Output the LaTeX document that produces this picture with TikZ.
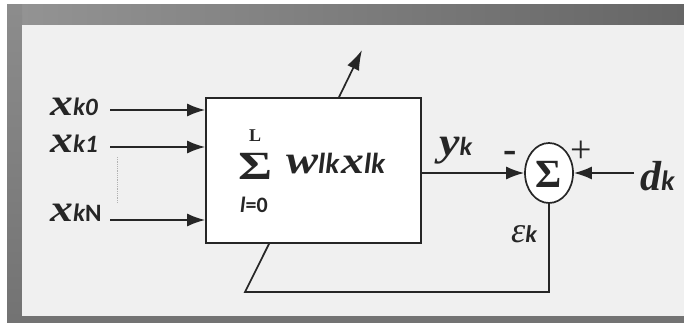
\documentclass[tikz,border=0pt]{standalone}
\usepackage{fontspec}
\setmainfont{Liberation Serif}
\newfontfamily\subf{Carlito}
\usetikzlibrary{arrows.meta,shapes.geometric}
\definecolor{panel}{HTML}{F0F0F0}
\definecolor{ink}{HTML}{262626}
\newcommand\bx[2]{\scalebox{#2}[1]{\fontsize{#1}{#1}\selectfont\bfseries\itshape x}}
\newcommand\sk[2]{{\fontsize{#1}{#1}\subf\bfseries\itshape #2}}
\begin{document}
\begin{tikzpicture}[x=1pt,y=-1pt,
  wire/.style={draw=ink,line width=1.7pt},
  arr/.style={wire,-{Latex[length=18pt,width=13pt]}},
  lbl/.style={inner sep=0pt,anchor=base west,text=ink}]
\useasboundingbox (0,0) rectangle (684,323);
% frame
\fill[white] (0,0) rectangle (684,323);
\shade[left color=black!42,right color=black!60] (7,5) rectangle (684,25);
\shade[top color=black!45,bottom color=black!55] (7,5) rectangle (22,323);
\fill[black!55] (7,316) rectangle (684,323);
\fill[panel] (22,25) rectangle (684,316);
% main box
\node[draw=ink,line width=1.7pt,fill=white,minimum width=215pt,minimum height=145pt,inner sep=0pt] (box) at (313.5,170.5) {};
\node[lbl] (L) at (249,142) {\fontsize{18}{18}\selectfont\bfseries L};
\node[lbl] (sig) at (238,179) {\scalebox{1.3}[1]{\fontsize{40}{40}\selectfont\bfseries Σ}};
\node[lbl] (l0) at (240,212) {\sk{22}{l}\sk{22}{\upshape =0}};
\node[lbl] (wx) at (286,173) {\scalebox{1.2}[1]{\fontsize{40}{40}\selectfont\bfseries\itshape w}\sk{29}{lk}\hspace{2pt}\bx{38}{1.2}\sk{29}{lk}};
% sum junction
\node[draw=ink,line width=1.7pt,fill=white,ellipse,minimum width=48pt,minimum height=60pt,inner sep=0pt] (sum) at (549,173) {};
\node[inner sep=0pt,text=ink] (sigs) at (549,174) {\fontsize{40}{40}\selectfont\bfseries Σ};
% inputs
\node[lbl] (x0) at (50,116) {\bx{38}{1.2}\sk{25}{k0}};
\node[lbl] (x1) at (50,153) {\bx{38}{1.2}\sk{25}{k1}};
\node[lbl] (xN) at (50,221) {\bx{38}{1.2}\sk{25}{k\upshape N}};
\coordinate (i0) at (110,110);
\coordinate (i1) at (110,147);
\coordinate (iN) at (110,220);
\draw[arr] (i0) -- (box.west |- i0);
\draw[arr] (i1) -- (box.west |- i1);
\draw[arr] (iN) -- (box.west |- iN);
\coordinate (d1) at (117,157);
\coordinate (d2) at (117,203);
\draw[black!30,line width=0.8pt,densely dotted] (d1) -- (d2);
% adaptation arrow
\coordinate (ad) at (362,50);
\draw[wire,-{Latex[length=20pt,width=13pt]}] ([xshift=25.5pt]box.north) -- (ad);
% output
\draw[arr] (box.east |- sum) -- (sum.west);
\node[lbl] (yk) at (439,156) {\scalebox{1.15}[1]{\fontsize{40}{40}\selectfont\bfseries\itshape y}\sk{26}{k}};
\node[lbl] (mn) at (503,162) {\fontsize{40}{40}\selectfont\bfseries -};
\node[lbl] (pl) at (570,162) {\fontsize{38}{38}\selectfont +};
% desired
\node[lbl] (dk) at (640,190) {\fontsize{42}{42}\selectfont\bfseries\itshape d\sk{28}{k}};
\coordinate (dkin) at (634,173);
\draw[arr] (dkin) -- (sum.east);
% error
\node[lbl] (ek) at (511,242) {\fontsize{36}{36}\selectfont\itshape ε\sk{24}{k}};
\coordinate (fb) at (245,292);
\draw[wire,line join=miter] ([xshift=-44.5pt]box.south) -- (fb) -| (sum.south);
\end{tikzpicture}
\end{document}
